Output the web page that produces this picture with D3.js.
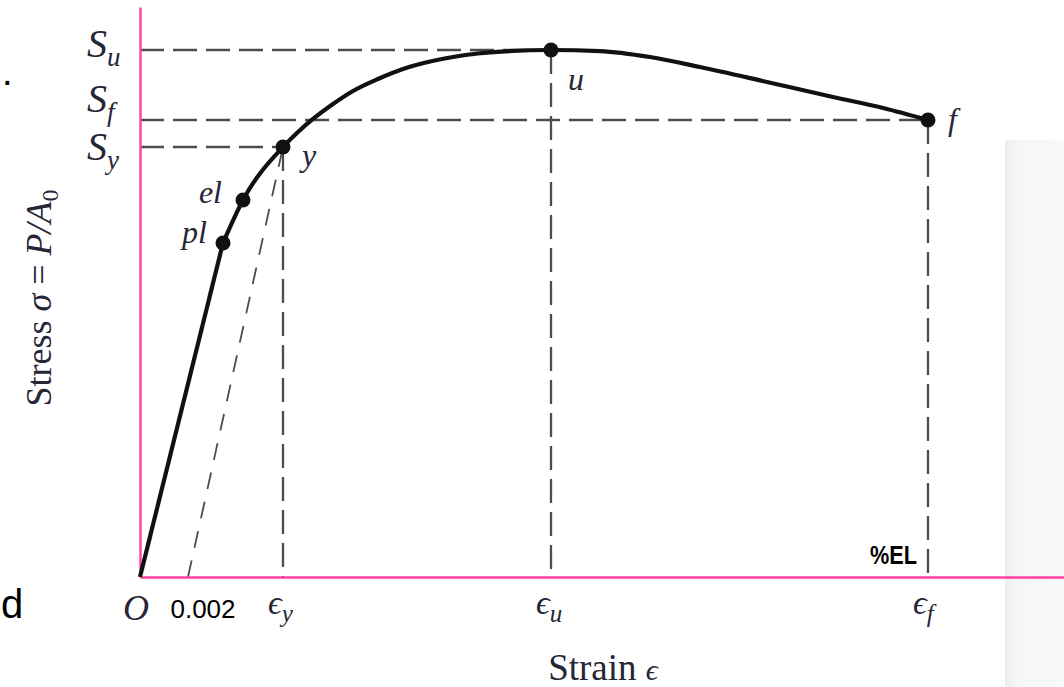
<!DOCTYPE html>
<html><head><meta charset="utf-8">
<script src="https://cdn.jsdelivr.net/npm/d3@7"></script>
<style>html,body{margin:0;padding:0;background:#fff;} svg{display:block;}</style>
</head><body><svg id="chart" width="1064" height="687"></svg>
<script>
// ---------------- data (arbitrary stress units, Su = 100) ----------------
const curveStrain = [0.003458, 0.004292, 0.005958, 0.006583, 0.007208, 0.008042, 0.008875, 0.009917,
                     0.010958, 0.012000, 0.013042, 0.014083, 0.015208, 0.017125, 0.019167, 0.021250,
                     0.023333, 0.026125, 0.028875, 0.030958, 0.032833];
const curveStress = [63.38, 71.54, 81.59, 84.44, 86.91, 89.75, 92.22, 94.50,
                     96.39, 97.72, 98.67, 99.34, 99.75, 100, 99.8, 98.67,
                     96.77, 93.93, 91.08, 89.0, 86.72];
const elasticStrain = [0, 0.003458];
const elasticStress = [0, 63.38];
const pointNames = ["pl", "el", "y", "u", "f"];
const pointStrain = [0.003458, 0.004292, 0.005958, 0.017125, 0.032833];
const pointStress = [63.38, 71.54, 81.59, 100, 86.72];
const refPoints = ["y", "u", "f"];          // dashed guides to both axes
const offsetStrain = 0.002;                  // 0.2% offset line to yield point
const stressTickValues = [100, 86.72, 81.59];
const stressTickMain = ["S", "S", "S"];
const stressTickSub = ["u", "f", "y"];
const strainTickValues = [0, 0.002, 0.005958, 0.017125, 0.032833];
const strainTickMain = ["O", "0.002", "ϵ", "ϵ", "ϵ"];
const strainTickSub = ["", "", "y", "u", "f"];
const xTitleMain = "Strain ";
const xTitleSym = "ϵ";
const yTitleParts = ["Stress ", "σ", " = ", "P/A", "0"];
const strainMax = 0.0385;
const stressMax = 108.16;

// ---------------- layout ----------------
const W = 1064, H = 687;
const x0 = 140, y0 = 577;
const svg = d3.select("#chart");
const x = d3.scaleLinear().domain([0, strainMax]).range([x0, W]);
const y = d3.scaleLinear().domain([0, stressMax]).range([y0, 7]);
const ink = "#262636";
const serif = "'Liberation Serif','Times New Roman','DejaVu Serif',serif";
const sans = "'Liberation Sans',Arial,sans-serif";

// grey side panel
const defs = svg.append("defs");
const grad = defs.append("linearGradient").attr("id", "pg").attr("x1", 0).attr("x2", 1);
grad.append("stop").attr("offset", 0).attr("stop-color", "#ededed");
grad.append("stop").attr("offset", 0.2).attr("stop-color", "#f6f6f6");
grad.append("stop").attr("offset", 1).attr("stop-color", "#f9f9f9");
svg.append("rect").attr("x", 1005).attr("y", 140).attr("width", 59).attr("height", H - 140).attr("fill", "url(#pg)");

// stray slide text on the left
svg.append("text").attr("x", 2).attr("y", 85).attr("font-family", sans).attr("font-size", 38).attr("fill", "#000").text(".");
svg.append("text").attr("x", 1).attr("y", 618).attr("font-family", sans).attr("font-size", 40).attr("fill", "#000").text("d");

const pIdx = n => pointNames.indexOf(n);

// dashed guides
const guides = svg.append("g").attr("stroke", "#4d4d4d").attr("stroke-width", 2.3).attr("stroke-dasharray", "24,9").attr("fill", "none");
refPoints.forEach(n => {
  const i = pIdx(n);
  guides.append("line").attr("x1", x(0)).attr("x2", x(pointStrain[i]))
    .attr("y1", y(pointStress[i])).attr("y2", y(pointStress[i]));
  guides.append("line").attr("x1", x(pointStrain[i])).attr("x2", x(pointStrain[i]))
    .attr("y1", y(pointStress[i])).attr("y2", y(0));
});
// offset line
const iy = pIdx("y");
svg.append("line").attr("x1", x(offsetStrain)).attr("y1", y(0))
  .attr("x2", x(pointStrain[iy])).attr("y2", y(pointStress[iy]))
  .attr("stroke", "#4d4d4d").attr("stroke-width", 1.8).attr("stroke-dasharray", "17,13");

// axes (pink)
const pink = "#ff3fa4";
const gy = svg.append("g").attr("transform", `translate(${x0},0)`)
  .call(d3.axisLeft(y).tickValues([]).tickSize(0).tickSizeOuter(0));
gy.select(".domain").attr("stroke", pink).attr("stroke-width", 2.4);
const gx = svg.append("g").attr("transform", `translate(0,${y0})`)
  .call(d3.axisBottom(x).tickValues([]).tickSize(0).tickSizeOuter(0));
gx.select(".domain").attr("stroke", pink).attr("stroke-width", 2.6);

// curve
svg.append("path").datum(elasticStrain.map((s, i) => [s, elasticStress[i]]))
  .attr("d", d3.line().x(d => x(d[0])).y(d => y(d[1])))
  .attr("fill", "none").attr("stroke", "#111").attr("stroke-width", 4.2);
svg.append("path").datum(curveStrain.map((s, i) => [s, curveStress[i]]))
  .attr("d", d3.line().x(d => x(d[0])).y(d => y(d[1])).curve(d3.curveMonotoneX))
  .attr("fill", "none").attr("stroke", "#111").attr("stroke-width", 4.2).attr("stroke-linecap", "round");

// markers
svg.append("g").selectAll("circle").data(pointNames).join("circle")
  .attr("cx", (d, i) => x(pointStrain[i])).attr("cy", (d, i) => y(pointStress[i]))
  .attr("r", 7.5).attr("fill", "#111");

// point labels
const pointLabelPos = { pl: [-16, 0, "end"], el: [-21, 3, "end"], y: [19, 19, "start"], u: [17, 40, "start"], f: [20, 10, "start"] };
svg.append("g").selectAll("text").data(pointNames).join("text")
  .attr("x", (d, i) => x(pointStrain[i]) + pointLabelPos[d][0])
  .attr("y", (d, i) => y(pointStress[i]) + pointLabelPos[d][1])
  .attr("text-anchor", d => pointLabelPos[d][2])
  .attr("font-family", serif).attr("font-style", "italic").attr("font-size", 32).attr("fill", ink)
  .text(d => d);

// stress tick labels
const stressNudge = [7, -8, 13];
stressTickValues.forEach((v, i) => {
  const t = svg.append("text").attr("x", 87).attr("y", y(v) + stressNudge[i])
    .attr("font-family", serif).attr("font-style", "italic").attr("fill", ink);
  t.append("tspan").attr("font-size", 40).text(stressTickMain[i]);
  t.append("tspan").attr("font-size", 27).attr("dy", 9).text(stressTickSub[i]);
});

// strain tick labels
strainTickValues.forEach((v, i) => {
  const main = strainTickMain[i];
  if (main === "O") {
    svg.append("text").attr("x", x(v) - 4).attr("y", 620).attr("text-anchor", "middle")
      .attr("font-family", serif).attr("font-style", "italic").attr("font-size", 36).attr("fill", ink).text(main);
  } else if (strainTickSub[i] === "") {
    svg.append("text").attr("x", x(v) + 15).attr("y", 618).attr("text-anchor", "middle")
      .attr("font-family", sans).attr("font-size", 26).attr("fill", "#000").text(main);
  } else {
    const t = svg.append("text").attr("x", x(v) - 15).attr("y", 614)
      .attr("font-family", serif).attr("font-style", "italic").attr("fill", ink);
    t.append("tspan").attr("font-size", 34).text(main);
    t.append("tspan").attr("font-size", 25).attr("dy", 8).text(strainTickSub[i]);
  }
});

// %EL
svg.append("text").attr("x", 917).attr("y", 564).attr("text-anchor", "end")
  .attr("font-family", sans).attr("font-weight", "bold").attr("font-size", 25)
  .attr("textLength", 47).attr("lengthAdjust", "spacingAndGlyphs").attr("fill", "#000").text("%EL");

// axis titles
const xt = svg.append("text").attr("x", 603).attr("y", 680).attr("text-anchor", "middle")
  .attr("font-family", serif).attr("fill", ink);
xt.append("tspan").attr("font-size", 37).text(xTitleMain);
xt.append("tspan").attr("font-size", 30).attr("font-style", "italic").text(xTitleSym);

const yt = svg.append("text").attr("transform", "translate(51,298) rotate(-90)").attr("text-anchor", "middle")
  .attr("font-family", serif).attr("font-size", 36).attr("fill", ink);
yt.append("tspan").text(yTitleParts[0]);
yt.append("tspan").attr("font-style", "italic").text(yTitleParts[1]);
yt.append("tspan").text(yTitleParts[2]);
yt.append("tspan").attr("font-style", "italic").text(yTitleParts[3]);
yt.append("tspan").attr("font-size", 24).attr("dy", 7).text(yTitleParts[4]);
</script>
</body></html>
